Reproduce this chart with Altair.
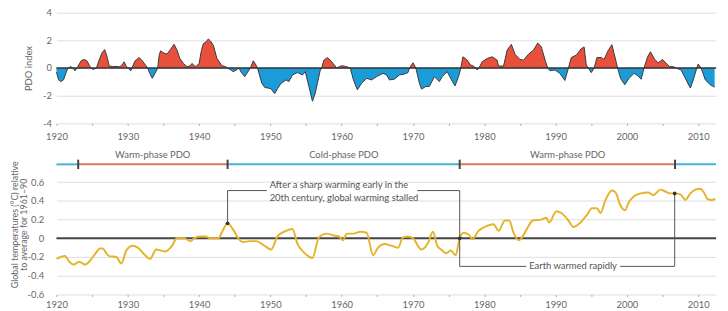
import altair as alt
import pandas as pd

# ---------------- data ----------------
pdo_year = [1920.0, 1920.3, 1920.6, 1921.0, 1921.3, 1921.6, 1922.0, 1922.3, 1922.6, 1922.9,
            1923.2, 1923.5, 1923.9, 1924.3, 1924.7, 1924.9, 1925.1, 1925.4, 1925.6, 1926.0,
            1926.4, 1926.75, 1927.0, 1927.4, 1927.9, 1928.4, 1928.9, 1929.3, 1929.5, 1929.8,
            1930.1, 1930.4, 1930.6, 1931.0, 1931.6, 1932.0, 1932.5, 1932.8, 1933.1, 1933.45,
            1933.8, 1934.2, 1934.4, 1934.6, 1935.0, 1935.5, 1936.0, 1936.5, 1936.9, 1937.3,
            1937.8, 1938.3, 1938.7, 1939.0, 1939.5, 1940.0, 1940.3, 1940.6, 1941.0, 1941.3,
            1941.6, 1942.0, 1942.5, 1943.2, 1943.7, 1944.0, 1944.4, 1944.8, 1945.2, 1945.6,
            1945.9, 1946.4, 1946.8, 1947.2, 1947.6, 1948.0, 1948.2, 1948.8, 1949.2, 1949.7,
            1950.1, 1950.6, 1951.0, 1951.5, 1952.2, 1952.6, 1953.1, 1953.8, 1954.5, 1954.9,
            1955.4, 1955.9, 1956.3, 1957.0, 1957.2, 1957.5, 1958.0, 1958.6, 1959.3, 1960.0,
            1960.7, 1961.2, 1961.65, 1962.2, 1962.8, 1963.5, 1964.2, 1964.9, 1965.8, 1966.3,
            1966.7, 1967.4, 1968.1, 1968.8, 1969.3, 1969.5, 1970.0, 1970.4, 1970.9, 1971.2,
            1971.8, 1972.3, 1973.0, 1973.7, 1974.1, 1974.8, 1975.4, 1975.9, 1976.4, 1976.7,
            1977.0, 1977.5, 1978.1, 1978.5, 1978.75, 1979.0, 1979.25, 1979.7, 1980.4, 1981.1,
            1981.8, 1982.0, 1982.7, 1983.2, 1983.8, 1984.3, 1985.0, 1985.5, 1986.2, 1986.9,
            1987.5, 1988.0, 1988.6, 1988.9, 1989.2, 1989.9, 1990.6, 1991.3, 1991.8, 1992.2,
            1992.9, 1993.6, 1994.0, 1994.3, 1994.6, 1995.0, 1995.4, 1995.8, 1996.4, 1996.8,
            1997.4, 1997.9, 1998.2, 1998.7, 1999.1, 1999.7, 2000.3, 2001.0, 2001.4, 2002.0,
            2002.4, 2002.9, 2003.3, 2003.9, 2004.4, 2005.0, 2005.6, 2006.0, 2006.5, 2006.9,
            2007.6, 2008.3, 2008.9, 2009.3, 2009.8, 2010.0, 2010.4, 2011.0, 2011.7, 2012.3]
pdo_value = [-0.3, -0.85, -0.98, -0.85, -0.4, 0.0, 0.1, 0.0, -0.2, 0.0,
             0.3, 0.55, 0.62, 0.5, 0.1, 0.0, -0.1, -0.05, 0.0, 0.6,
             1.1, 1.33, 1.0, 0.15, 0.1, 0.12, 0.08, 0.3, 0.45, 0.1,
             0.0, -0.2, 0.0, 0.5, 0.76, 0.55, 0.2, 0.0, -0.4, -0.74,
             -0.4, 0.0, 0.9, 1.24, 1.1, 1.0, 1.35, 1.71, 1.3, 0.7,
             0.33, 0.1, 0.15, 0.33, 0.1, 0.3, 1.2, 1.76, 1.9, 2.1,
             1.95, 1.64, 0.7, 0.17, 0.1, 0.0, -0.12, -0.26, -0.15, 0.0,
             -0.3, -0.62, -0.3, 0.0, 0.52, 0.2, 0.0, -1.1, -1.4, -1.45,
             -1.5, -1.85, -1.5, -1.1, -0.86, -0.98, -0.5, -0.33, -0.5, -0.26,
             -1.33, -2.4, -1.8, -0.14, 0.0, 0.57, 0.76, 0.45, 0.0, 0.17,
             0.1, 0.0, -0.86, -1.57, -1.1, -0.74, -0.86, -0.62, -0.38, -0.5,
             -0.86, -0.8, -0.5, -0.43, -0.33, 0.0, 0.38, 0.0, -1.1, -1.52,
             -1.33, -1.33, -0.62, -0.98, -0.62, -0.26, -0.86, -1.29, -0.6, 0.0,
             0.81, 0.62, 0.21, 0.14, 0.0, -0.14, 0.0, 0.45, 0.69, 0.81,
             0.57, 0.14, 0.14, 1.29, 1.71, 1.0, 0.62, 0.57, 1.0, 1.29,
             1.81, 1.52, 0.45, 0.0, -0.19, -0.14, -0.38, -0.9, 0.0, 0.76,
             0.93, 1.4, 1.52, 0.21, 0.0, -0.33, 0.0, 0.76, 0.76, 0.62,
             1.29, 1.69, 1.05, 0.0, -0.74, -1.21, -0.74, -0.38, -0.5, -0.81,
             0.0, 0.81, 1.17, 0.62, 0.38, 0.62, 0.29, 0.1, 0.1, 0.0,
             -0.14, -0.86, -1.45, -0.86, 0.0, 0.29, 0.0, -0.86, -1.21, -1.38]

temp_year = [1920.0, 1920.6, 1921.2, 1921.8, 1922.4, 1923.2, 1924.0, 1924.7, 1925.4, 1926.1,
             1926.5, 1927.0, 1927.4, 1928.4, 1929.1, 1929.8, 1930.7, 1931.4, 1932.3, 1933.1,
             1934.0, 1934.6, 1935.3, 1936.2, 1936.9, 1937.9, 1938.8, 1939.3, 1940.0, 1940.9,
             1941.6, 1942.7, 1943.3, 1944.0, 1944.8, 1945.5, 1946.2, 1947.1, 1948.0, 1949.2,
             1950.1, 1951.0, 1952.2, 1953.1, 1953.8, 1954.7, 1955.9, 1956.8, 1957.9, 1958.9,
             1959.6, 1960.2, 1960.7, 1961.7, 1962.6, 1963.5, 1964.4, 1965.1, 1966.0, 1967.0,
             1967.9, 1968.6, 1969.3, 1970.0, 1971.2, 1972.1, 1972.8, 1973.4, 1974.1, 1974.6,
             1975.3, 1976.0, 1976.5, 1977.1, 1977.8, 1978.3, 1979.2, 1980.3, 1981.3, 1982.0,
             1982.9, 1983.5, 1984.1, 1984.8, 1985.2, 1985.9, 1986.8, 1988.0, 1988.7, 1989.1,
             1990.1, 1990.8, 1991.7, 1992.5, 1993.5, 1994.4, 1995.1, 1995.8, 1996.3, 1997.0,
             1997.9, 1998.4, 1999.1, 1999.7, 2000.3, 2001.0, 2001.9, 2003.0, 2003.7, 2004.7,
             2005.4, 2006.1, 2006.7, 2007.5, 2008.2, 2008.9, 2009.6, 2010.3, 2010.8, 2011.3,
             2011.9, 2012.4]
temp_value = [-0.22, -0.20, -0.19, -0.25, -0.28, -0.25, -0.28, -0.24, -0.17, -0.11,
              -0.11, -0.16, -0.19, -0.20, -0.27, -0.13, -0.08, -0.10, -0.17, -0.22,
              -0.12, -0.13, -0.14, -0.08, 0.0, 0.0, -0.03, 0.0, 0.02, 0.02,
              0.0, 0.0, 0.08, 0.16, 0.09, 0.0, -0.04, -0.03, -0.03, -0.08,
              -0.12, 0.02, 0.08, 0.10, -0.06, -0.15, -0.21, 0.01, 0.05, 0.03,
              0.02, -0.02, 0.05, 0.05, 0.07, 0.06, -0.18, -0.10, -0.06, -0.08,
              -0.10, 0.01, 0.02, 0.0, -0.12, -0.05, 0.07, -0.08, -0.13, -0.16,
              -0.13, -0.18, -0.01, 0.06, 0.04, -0.01, 0.08, 0.13, 0.15, 0.08,
              0.19, 0.19, 0.06, -0.02, 0.0, 0.09, 0.19, 0.20, 0.22, 0.17,
              0.29, 0.27, 0.20, 0.12, 0.17, 0.25, 0.32, 0.32, 0.27, 0.41,
              0.51, 0.49, 0.35, 0.30, 0.39, 0.45, 0.48, 0.49, 0.46, 0.52,
              0.50, 0.48, 0.48, 0.47, 0.41, 0.48, 0.52, 0.53, 0.49, 0.42,
              0.41, 0.42]

# PDO phases
phase_start = [1920.0, 1923.05, 1944.0, 1976.55, 2006.75]
phase_end = [1923.05, 1944.0, 1976.55, 2006.75, 2012.5]
phase_kind = ["cold", "warm", "cold", "warm", "cold"]
phase_labels = ["Warm-phase PDO", "Cold-phase PDO", "Warm-phase PDO"]
phase_label_x = [1933.5, 1960.3, 1991.7]
phase_bounds = [1923.05, 1944.0, 1976.55, 2006.75]

# annotations
marker_year = [1944.0, 1976.55, 2006.7]
marker_value = [0.16, 0.0, 0.48]
seg_x = [1944.0, 1944.0, 1970.6, 1976.55, 1976.55, 1999.05, 2006.7]
seg_x2 = [1944.0, 1949.5, 1976.55, 1976.55, 1985.9, 2006.7, 2006.7]
seg_y = [0.16, 0.51, 0.51, 0.51, -0.30, -0.30, -0.30]
seg_y2 = [0.51, 0.51, 0.51, -0.30, -0.30, -0.30, 0.48]
note1_lines = ["After a sharp warming early in the", "20th century, global warming stalled"]
note2 = "Earth warmed rapidly"

# ---------------- styling ----------------
FONT = "Lato"
TXT = "#666666"
RED = "#e8503b"
BLUE = "#1b9bd7"
W = 667
XDOM = [1920, 2012.5]

pdo_df = pd.DataFrame({"year": pdo_year, "v": pdo_value})
temp_df = pd.DataFrame({"year": temp_year, "t": temp_value})
phase_df = pd.DataFrame({"x": phase_start, "x2": phase_end, "kind": phase_kind})
plab_df = pd.DataFrame({"x": phase_label_x, "label": phase_labels})
bnd_df = pd.DataFrame({"x": phase_bounds})
mk_df = pd.DataFrame({"x": marker_year, "y": marker_value})
seg_df = pd.DataFrame({"x": seg_x, "x2": seg_x2, "y": seg_y, "y2": seg_y2})
note1_df = pd.DataFrame({"x": [1949.9, 1949.9], "y": [0.565, 0.43], "label": note1_lines})
note2_df = pd.DataFrame({"x": [1992.45], "y": [-0.30], "label": [note2]})
zero_df = pd.DataFrame({"z": [0]})

x_ticks = list(range(1920, 2015, 5))

XAX = alt.Axis(values=x_ticks, labelExpr="datum.value % 10 == 0 ? '' + datum.value : ''",
               grid=False, domain=False, tickSize=2, tickColor="#aaaaaa",
               labelPadding=6, labelFlush=False, labelOverlap=False, title=None)
XAX_B = alt.Axis(values=x_ticks, labelExpr="datum.value % 10 == 0 ? '' + datum.value : ''",
                 grid=False, domain=False, tickSize=2, tickColor="#aaaaaa",
                 labelPadding=3, labelFlush=False, labelOverlap=False, title=None)
YAX_T = alt.Axis(values=[-4, -2, 0, 2, 4], title="PDO index", grid=True,
                 ticks=False, domain=False, labelPadding=5, titlePadding=9,
                 labelOverlap=False,
                 labelExpr="datum.value < 0 ? '-' + (-datum.value) : '' + datum.value")
YAX_B = alt.Axis(values=[-0.6, -0.4, -0.2, 0, 0.2, 0.4, 0.6],
                 title=["Global temperatures (°C) relative", "to average for 1961–90"],
                 grid=True, ticks=False, domain=False, labelPadding=13, titlePadding=-2,
                 titleLineHeight=10, titleFontSize=9, labelOverlap=False,
                 labelExpr="datum.value == 0 ? '0' : (datum.value < 0 ? '-' + format(-datum.value, '.1f') : format(datum.value, '.1f'))")

xs = alt.Scale(domain=XDOM, nice=False, zero=False)

# ---------------- top panel (PDO) ----------------
ys_top = alt.Scale(domain=[-4, 4], nice=False)
base_top = alt.Chart(pdo_df).transform_calculate(
    pos="max(datum.v, 0)", neg="min(datum.v, 0)")

pos_area = base_top.mark_area(color=RED, opacity=1).encode(
    x=alt.X("year:Q", scale=xs, axis=XAX),
    y=alt.Y("pos:Q", scale=ys_top, axis=YAX_T),
    y2=alt.datum(0))
neg_area = base_top.mark_area(color=BLUE, opacity=1).encode(
    x=alt.X("year:Q", scale=xs, axis=XAX), y=alt.Y("neg:Q", scale=ys_top, axis=YAX_T),
    y2=alt.datum(0))
outline = alt.Chart(pdo_df).mark_line(color="#3a3a3a", strokeWidth=1).encode(
    x=alt.X("year:Q", scale=xs, axis=XAX), y=alt.Y("v:Q", scale=ys_top, axis=YAX_T))
zero_top = alt.Chart(zero_df).mark_rule(color="#333333", strokeWidth=1.5).encode(
    y=alt.Y("z:Q", scale=ys_top, axis=YAX_T))

top = alt.layer(pos_area, neg_area, outline, zero_top).properties(width=W, height=112)

# ---------------- bottom panel (temperature) ----------------
ys_bot = alt.Scale(domain=[-0.6, 0.9], nice=False)


def X(f="x"):
    return alt.X(f + ":Q", scale=xs, axis=XAX_B)


def Y(f="y"):
    return alt.Y(f + ":Q", scale=ys_bot, axis=YAX_B)


def YD(v):
    return alt.YDatum(v, scale=ys_bot, axis=YAX_B)


zero_bot = alt.Chart(zero_df).mark_rule(color="#444444", strokeWidth=2).encode(y=Y("z"))
temp_line = alt.Chart(temp_df).mark_line(color="#e6b42a", strokeWidth=2, interpolate="monotone").encode(
    x=X("year"), y=Y("t"))
segs = alt.Chart(seg_df).mark_rule(color="#555555", strokeWidth=1).encode(
    x=X(), x2="x2:Q", y=Y(), y2="y2:Q")
markers = alt.Chart(mk_df).mark_circle(color="#333333", size=14, opacity=1).encode(
    x=X(), y=Y())
note1 = alt.Chart(note1_df).mark_text(font=FONT, fontSize=9.5, color="#555555", align="left",
                                      baseline="middle").encode(
    x=X(), y=Y(), text="label:N")
note2_t = alt.Chart(note2_df).mark_text(font=FONT, fontSize=9.5, color="#555555", align="center",
                                        baseline="middle").encode(
    x=X(), y=Y(), text="label:N")
phase_bar = alt.Chart(phase_df).mark_rule(strokeWidth=2).encode(
    x=X(), x2="x2:Q", y=YD(0.79),
    color=alt.Color("kind:N", scale=alt.Scale(domain=["warm", "cold"], range=["#d97a5c", "#45b3dc"]),
                    legend=None))
phase_ticks = alt.Chart(bnd_df).mark_rule(strokeWidth=2, color="#444444").encode(
    x=X(), y=YD(0.74), y2=alt.datum(0.84))
phase_text = alt.Chart(plab_df).mark_text(font=FONT, fontSize=9.5, color=TXT, baseline="middle").encode(
    x=X(), y=YD(0.885), text="label:N")

bottom = alt.layer(zero_bot, temp_line, segs, markers, note1, note2_t, phase_bar, phase_ticks,
                   phase_text).properties(width=W, height=142)

chart = alt.vconcat(top, bottom, spacing=9).properties(
    padding={"left": 2, "top": -2, "right": 0, "bottom": 0}
).configure_view(stroke=None).configure_axis(
    labelFont=FONT, titleFont=FONT, labelColor=TXT, titleColor=TXT, labelFontSize=9.5,
    titleFontSize=9.5, titleFontWeight="normal", gridColor="#dedede", gridWidth=1)

chart.save("out.html", embed_options={"renderer": "svg", "actions": False})
